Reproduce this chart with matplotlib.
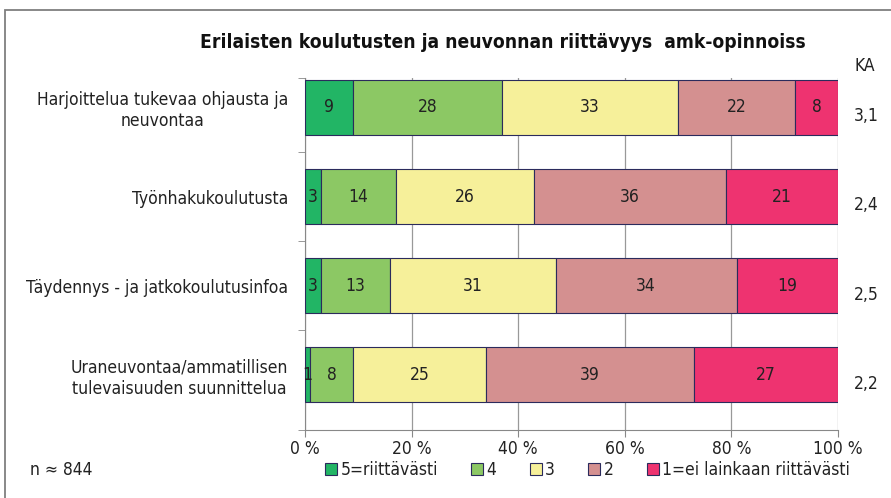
import numpy as np
import matplotlib.pyplot as plt
from matplotlib.patches import Rectangle
from matplotlib import font_manager

names = {f.name for f in font_manager.fontManager.ttflist}
fams = [n for n in ["Liberation Sans Narrow", "DejaVu Sans Condensed"] if n in names]
plt.rcParams['font.family'] = fams + ['DejaVu Sans']
plt.rcParams['font.stretch'] = 'condensed'

categories = ["Harjoittelua tukevaa ohjausta ja\nneuvontaa",
              "Työnhakukoulutusta",
              "Täydennys - ja jatkokoulutusinfoa",
              "Uraneuvontaa/ammatillisen\ntulevaisuuden suunnittelua"]
series = ["5=riittävästi", "4", "3", "2", "1=ei lainkaan riittävästi"]
values = np.array([
    [9, 28, 33, 22, 8],
    [3, 14, 26, 36, 21],
    [3, 13, 31, 34, 19],
    [1, 8, 25, 39, 27],
])
ka = ["3,1", "2,4", "2,5", "2,2"]
colors = ["#22b565", "#8cc864", "#f6f09a", "#d49090", "#ee3370"]
xticks = [0, 20, 40, 60, 80, 100]

FS = 12.5

fig = plt.figure(figsize=(8.91, 4.98), dpi=100)
ax = fig.add_axes([305 / 891, 1 - 430 / 498, 533 / 891, 352 / 498])

# frame around the chart (runs off right and bottom edge)
fig.patches.append(Rectangle((5 / 891, -0.05), 1.05, 1 - 10 / 498 + 0.05,
                             transform=fig.transFigure, fill=False,
                             edgecolor="#7f7f7f", linewidth=1.3))

y = np.arange(len(categories))
left = np.zeros(len(categories))
for j, name in enumerate(series):
    ax.barh(y, values[:, j], left=left, height=0.62, color=colors[j],
            edgecolor="#2b2b5c", linewidth=0.8, label=name, zorder=3)
    for i in range(len(categories)):
        v = values[i, j]
        ax.text(left[i] + v / 2, y[i], str(v), ha="center", va="center",
                fontsize=FS, color="#222222", zorder=4)
    left += values[:, j]

ax.set_xlim(0, 100)
ax.set_ylim(3.62, -0.33)
ax.set_xticks(xticks)
ax.set_xticklabels([f"{t} %" for t in xticks], fontsize=FS, color="#222222")
ax.set_yticks(y)
ax.set_yticklabels(categories, fontsize=FS, color="#222222",
                   multialignment="center")
ax.set_yticks([-0.33, 0.5, 1.5, 2.5, 3.62], minor=True)
ax.tick_params(axis="y", which="major", length=0, pad=12)
ax.tick_params(axis="y", which="minor", length=5, color="#888888")
ax.tick_params(axis="x", length=5, color="#888888", pad=2)
ax.grid(axis="x", color="#999999", linewidth=0.9, zorder=0)
for s in ["top", "right"]:
    ax.spines[s].set_visible(False)
for s in ["left", "bottom"]:
    ax.spines[s].set_color("#888888")

# KA column
ax.text(1.05, 1.035, "KA", transform=ax.transAxes, ha="center", va="center",
        fontsize=FS, color="#222222")
for i, k in enumerate(ka):
    ax.text(105.3, y[i] + 0.1, k, ha="center", va="center", fontsize=FS,
            color="#222222", clip_on=False)

fig.text(200 / 891, 1 - 42 / 498,
         "Erilaisten koulutusten ja neuvonnan riittävyys  amk-opinnoiss",
         ha="left", va="center", fontsize=13.8, fontweight="bold",
         color="#111111")
fig.text(30 / 891, 1 - 470 / 498, "n ≈ 844", ha="left", va="center",
         fontsize=FS, color="#222222")

ax.legend(loc="center", bbox_to_anchor=(0.53, -0.114), ncol=5, frameon=False,
          fontsize=FS, handlelength=0.7, handleheight=0.7, handletextpad=0.2,
          columnspacing=1.9, labelcolor="#222222")

fig.savefig("out.png", dpi=100)
